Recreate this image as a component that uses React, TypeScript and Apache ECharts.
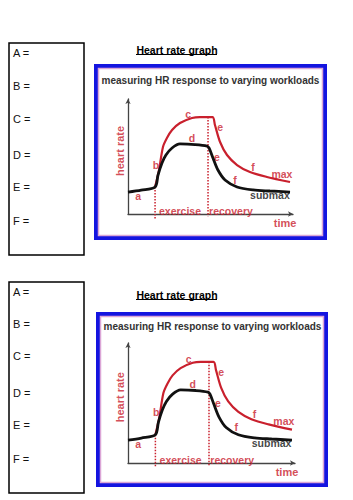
import React, { useEffect, useRef } from 'react';
import * as echarts from 'echarts';

// ---------- texts ----------
const answerLabels = ['A =', 'B =', 'C =', 'D =', 'E =', 'F ='];
const pageTitle = 'Heart rate graph';
const chartTitle = 'measuring HR response to varying workloads';
const axisTitles = ['heart rate', 'time'];
const curveNames = ['max', 'submax'];
const phaseNames = ['exercise', 'recovery'];

// ---------- curves (time 0..100, heart rate 0..100 in axis units) ----------
const timeSubmax = [0, 8, 16.4, 18.2, 20.6, 23, 26.7, 31.5, 40.6, 47.9, 49.1, 51.5, 54.5, 58.8, 66.1, 75.8, 86, 98.2];
const hrSubmax = [19.1, 20.8, 23.5, 33.9, 44.3, 51.3, 57.4, 60.9, 60.4, 59.1, 57.4, 48.7, 38.3, 29.6, 23.5, 20.9, 20, 19.1];
const timeMax = [16.4, 18.8, 21.2, 23.6, 26.7, 31.5, 38.8, 43.6, 51.2, 52.7, 55.8, 60, 66.1, 73.9, 84.2, 98.2];
const hrMax = [23.5, 38.3, 58.3, 66.1, 73, 79.1, 83.5, 84.3, 84.3, 77.4, 62.6, 51.3, 42.6, 36.5, 32.2, 27.8];

// phase boundaries
const exerciseStart = 16.4;
const recoveryStart = 48.5;

// stage letters and their anchor points (axis units)
const stageLetters = ['a', 'b', 'c', 'd', 'e', 'e', 'f', 'f'];
const stageTime = [6.1, 16.9, 36.4, 38.8, 55.8, 53.9, 75.8, 64.8];
const stageHr = [15.7, 42.6, 87, 66, 75.7, 49.6, 40.9, 29.6];

// anchors of the other labels (axis units)
const curveNameTime = [93.3, 86];
const curveNameHr = [34.8, 16.5];
const phaseNameTime = [31.5, 62.4];
const phaseNameHr = [2.6, 2.6];
const axisTitleTime = [-4.8, 95.2];
const axisTitleHr = [54.8, -7.8];

// ---------- layout ----------
const RED = '#c9202d';
const BLUE = '#1414e0';
const FONT = '"Liberation Sans", Arial, sans-serif';

const panels = [
  {
    box: [9, 43, 75, 212],
    labelY: [53, 86, 119, 155, 187, 221],
    titleY: 50,
    frame: [94, 64, 327, 240],
    innerTitle: [210.5, 80],
    grid: { left: 128, top: 99, width: 165, height: 115 },
  },
  {
    box: [9, 282, 75, 211],
    labelY: [292, 324, 356, 393, 425, 459],
    titleY: 295,
    frame: [96, 312, 328, 487],
    innerTitle: [212.5, 326],
    grid: { left: 128, top: 343, width: 167, height: 120 },
  },
];

function buildOption() {
  const graphic: any[] = [];
  const grid: any[] = [];
  const xAxis: any[] = [];
  const yAxis: any[] = [];
  const series: any[] = [];

  panels.forEach((p, i) => {
    // answer box
    graphic.push({
      type: 'rect',
      shape: { x: p.box[0], y: p.box[1], width: p.box[2], height: p.box[3] },
      style: { fill: 'none', stroke: '#000', lineWidth: 1.5 },
    });
    answerLabels.forEach((t, k) => {
      graphic.push({
        type: 'text',
        style: {
          text: t, x: 13, y: p.labelY[k], fill: '#111',
          fontSize: 11, fontFamily: FONT, align: 'left', verticalAlign: 'middle',
        },
      });
    });
    // page title, underlined
    graphic.push({
      type: 'text',
      style: {
        text: pageTitle, x: 177, y: p.titleY, fill: '#000',
        fontSize: 10.5, fontWeight: 'bold', fontFamily: FONT, align: 'center', verticalAlign: 'middle',
      },
    });
    graphic.push({
      type: 'line',
      shape: { x1: 136, y1: p.titleY + 4.5, x2: 217, y2: p.titleY + 4.5 },
      style: { stroke: '#000', lineWidth: 1 },
    });
    // blue frame + pink inner line
    const [fx1, fy1, fx2, fy2] = p.frame;
    graphic.push({
      type: 'rect',
      shape: { x: fx1 + 2, y: fy1 + 2, width: fx2 - fx1 - 4, height: fy2 - fy1 - 4 },
      style: { fill: 'none', stroke: BLUE, lineWidth: 4 },
    });
    graphic.push({
      type: 'rect',
      shape: { x: fx1 + 4.5, y: fy1 + 4.5, width: fx2 - fx1 - 9, height: fy2 - fy1 - 9 },
      style: { fill: 'none', stroke: '#dba6d6', lineWidth: 1.5 },
    });
    graphic.push({
      type: 'text',
      style: {
        text: chartTitle, x: p.innerTitle[0], y: p.innerTitle[1], fill: '#333',
        fontSize: 10, fontWeight: 'bold', fontFamily: FONT, align: 'center', verticalAlign: 'middle',
      },
    });

    grid.push({ ...p.grid });
    const axisBase = {
      gridIndex: i, type: 'value', min: 0, max: 100,
      axisLine: { show: true, onZero: false, symbol: ['none', 'arrow'], symbolSize: [4, 5], lineStyle: { color: '#444', width: 1.3 } },
      axisTick: { show: false }, axisLabel: { show: false }, splitLine: { show: false },
    };
    xAxis.push({ ...axisBase });
    yAxis.push({ ...axisBase });

    const common = { xAxisIndex: i, yAxisIndex: i, silent: true, clip: false };
    series.push({
      ...common, type: 'line', symbol: 'none',
      data: [[exerciseStart, hrSubmax[2]], [exerciseStart, -4]],
      lineStyle: { color: RED, width: 1.5, type: 'dotted' },
    });
    series.push({
      ...common, type: 'line', symbol: 'none',
      data: [[recoveryStart, hrMax[7]], [recoveryStart, -2]],
      lineStyle: { color: RED, width: 1.5, type: 'dotted' },
    });
    series.push({
      ...common, type: 'line', symbol: 'none', smooth: 0.3,
      data: timeMax.map((t, k) => [t, hrMax[k]]),
      lineStyle: { color: RED, width: 2.2 },
    });
    series.push({
      ...common, type: 'line', symbol: 'none', smooth: 0.3,
      data: timeSubmax.map((t, k) => [t, hrSubmax[k]]),
      lineStyle: { color: '#111', width: 2.8 },
    });

    const notes: any[] = [];
    stageLetters.forEach((t, k) => {
      notes.push({ value: [stageTime[k], stageHr[k]], label: { formatter: t, color: RED, fontSize: 10.5, fontWeight: 'bold' } });
    });
    curveNames.forEach((t, k) => {
      notes.push({ value: [curveNameTime[k], curveNameHr[k]], label: { formatter: t, color: k === 0 ? RED : '#111', fontSize: 10.5, fontWeight: 'bold' } });
    });
    phaseNames.forEach((t, k) => {
      notes.push({ value: [phaseNameTime[k], phaseNameHr[k]], label: { formatter: t, color: RED, fontSize: 10.5, fontWeight: 'bold' } });
    });
    axisTitles.forEach((t, k) => {
      notes.push({ value: [axisTitleTime[k], axisTitleHr[k]], label: { formatter: t, color: RED, fontSize: 11, fontWeight: 'bold', rotate: k === 0 ? 90 : 0 } });
    });
    series.push({
      ...common, type: 'scatter', symbolSize: 0, data: notes,
      label: { show: true, position: 'inside', fontFamily: FONT },
    });
  });

  return {
    animation: false,
    backgroundColor: '#fff',
    graphic,
    grid,
    xAxis,
    yAxis,
    series,
  };
}

export default function App() {
  const ref = useRef<HTMLDivElement>(null);
  useEffect(() => {
    document.body.style.margin = '0';
    if (!ref.current) return;
    const chart = echarts.init(ref.current, undefined, { renderer: 'svg' });
    chart.setOption(buildOption() as any);
    return () => chart.dispose();
  }, []);
  return <div ref={ref} style={{ width: 353, height: 500 }} />;
}
